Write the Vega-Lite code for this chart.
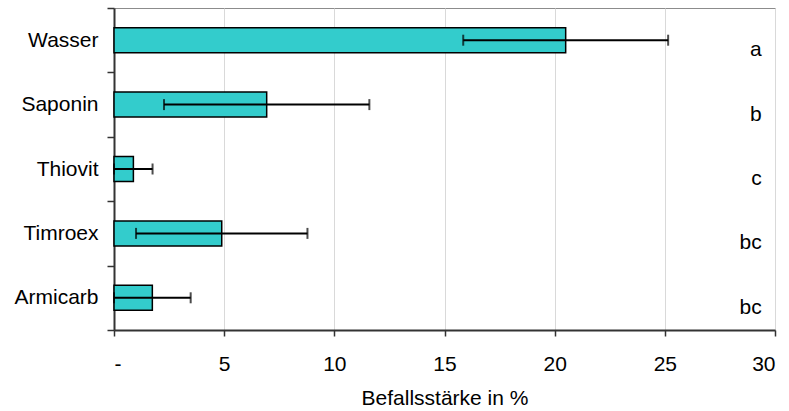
{
  "$schema": "https://vega.github.io/schema/vega-lite/v6.json",
  "width": 661,
  "height": 322,
  "autosize": {"type": "none"},
  "padding": {"left": 114, "top": 8, "right": 14, "bottom": 81},
  "background": "white",
  "config": {
    "font": "Liberation Sans",
    "view": {"stroke": "#8c8c8c", "strokeWidth": 1}
  },
  "data": {
    "values": [
      {"Variante": "Wasser", "Befall": 20.5, "lo": 15.85, "hi": 25.15, "Gruppe": "a"},
      {"Variante": "Saponin", "Befall": 6.93, "lo": 2.27, "hi": 11.59, "Gruppe": "b"},
      {"Variante": "Thiovit", "Befall": 0.88, "lo": 0, "hi": 1.75, "Gruppe": "c"},
      {"Variante": "Timroex", "Befall": 4.89, "lo": 1.0, "hi": 8.78, "Gruppe": "bc"},
      {"Variante": "Armicarb", "Befall": 1.74, "lo": 0, "hi": 3.48, "Gruppe": "bc"}
    ]
  },
  "encoding": {
    "y": {
      "field": "Variante",
      "type": "nominal",
      "sort": null,
      "scale": {"paddingInner": 0, "paddingOuter": 0},
      "axis": {
        "title": null,
        "labelFontSize": 21,
        "labelColor": "black",
        "tickBand": "extent",
        "tickSize": 7,
        "tickColor": "#333",
        "tickWidth": 1.5,
        "domainColor": "#333",
        "domainWidth": 2,
        "labelPadding": 9,
        "grid": false
      }
    }
  },
  "layer": [
    {
      "mark": {"type": "bar", "size": 25, "fill": "#33CCCC", "stroke": "black", "strokeWidth": 1.5},
      "encoding": {
        "x": {
          "field": "Befall",
          "type": "quantitative",
          "scale": {"domain": [0, 30], "nice": false},
          "axis": {
            "title": "Befallsstärke in %",
            "titleFontSize": 21,
            "titleFontWeight": "normal",
            "titleColor": "black",
            "titlePadding": 13,
            "labelFontSize": 21,
            "labelColor": "black",
            "labelPadding": 17,
            "values": [0, 5, 10, 15, 20, 25, 30],
            "labelExpr": "datum.value == 0 ? '-' : datum.label",
            "grid": true,
            "gridColor": "#d9d9d9",
            "gridWidth": 1,
            "domainColor": "#333",
            "domainWidth": 2,
            "tickColor": "#333",
            "tickWidth": 1.5,
            "tickSize": 6
          }
        }
      }
    },
    {
      "mark": {"type": "rule", "color": "black", "strokeWidth": 2},
      "encoding": {
        "x": {"field": "lo", "type": "quantitative"},
        "x2": {"field": "hi"}
      }
    },
    {
      "mark": {"type": "tick", "color": "black", "thickness": 2, "size": 11},
      "encoding": {"x": {"field": "lo", "type": "quantitative"}}
    },
    {
      "mark": {"type": "tick", "color": "black", "thickness": 2, "size": 11},
      "encoding": {"x": {"field": "hi", "type": "quantitative"}}
    },
    {
      "mark": {"type": "text", "align": "right", "baseline": "alphabetic", "dy": 16, "fontSize": 21, "color": "black"},
      "encoding": {
        "x": {"datum": 29.4, "type": "quantitative"},
        "text": {"field": "Gruppe"}
      }
    }
  ]
}
